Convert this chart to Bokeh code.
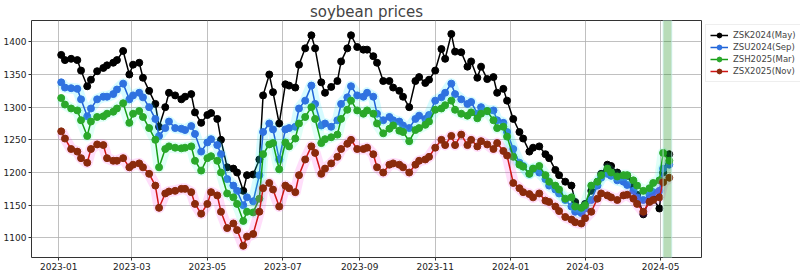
import pandas as pd
from bokeh.plotting import figure
from bokeh.models import BoxAnnotation, FixedTicker, Legend, LegendItem, Range1d
from bokeh.embed import file_html
from bokeh.resources import INLINE

title = "soybean prices"
series_names = ["ZSK2024(May)", "ZSU2024(Sep)", "ZSH2025(Mar)", "ZSX2025(Nov)"]
dates = pd.bdate_range("2023-01-03", "2024-05-10")[::3]

zsk2024 = [1380, 1372, 1374, 1372, 1356, 1332, 1342, 1355, 1360, 1364,
           1368, 1372, 1386, 1350, 1365, 1368, 1345, 1325, 1305, 1270,
           1300, 1322, 1318, 1312, 1316, 1320, 1292, 1276, 1288, 1291,
           1282, 1250, 1208, 1206, 1200, 1172, 1196, 1197, 1220, 1318,
           1350, 1323, 1275, 1335, 1333, 1330, 1365, 1390, 1410, 1390,
           1338, 1322, 1331, 1340, 1370, 1390, 1410, 1392, 1388, 1388,
           1378, 1368, 1340, 1340, 1330, 1325, 1316, 1300, 1340, 1346,
           1337, 1342, 1356, 1389, 1374, 1412, 1385, 1384, 1362, 1370,
           1345, 1362, 1343, 1346, 1322, 1328, 1310, 1282, 1262, 1252,
           1232, 1238, 1240, 1228, 1222, 1204, 1196, 1186, 1180, 1155,
           1145, 1152, 1172, 1186, 1198, 1212, 1210, 1200, 1195, 1195,
           1178, 1166, 1136, 1158, 1160, 1145, 1200, 1228]
zsu2024 = [1338, 1330, 1329, 1328, 1312, 1286, 1298, 1312, 1316, 1316,
           1320, 1327, 1336, 1312, 1318, 1322, 1315, 1300, 1282, 1256,
           1268, 1278, 1268, 1267, 1265, 1271, 1259, 1232, 1246, 1251,
           1242, 1228, 1190, 1180, 1172, 1150, 1162, 1156, 1196, 1262,
           1275, 1266, 1220, 1266, 1268, 1270, 1298, 1310, 1333, 1305,
           1272, 1275, 1270, 1280, 1305, 1315, 1332, 1318, 1316, 1322,
           1316, 1290, 1280, 1285, 1280, 1278, 1272, 1268, 1282, 1287,
           1282, 1288, 1310, 1315, 1322, 1336, 1320, 1312, 1305, 1308,
           1290, 1300, 1294, 1295, 1280, 1276, 1262, 1236, 1215, 1210,
           1198, 1205, 1200, 1190, 1180, 1174, 1168, 1158, 1148, 1140,
           1138, 1145, 1158, 1180, 1192, 1198, 1195, 1188, 1186, 1181,
           1172, 1162, 1158, 1166, 1170, 1172, 1206, 1212]
zsh2025 = [1314, 1304, 1298, 1295, 1280, 1256, 1278, 1285, 1286, 1290,
           1293, 1298, 1306, 1276, 1290, 1294, 1285, 1268, 1250, 1208,
           1236, 1240, 1238, 1237, 1238, 1240, 1218, 1203, 1222, 1225,
           1218, 1200, 1168, 1162, 1152, 1126, 1140, 1139, 1160, 1228,
           1243, 1245, 1205, 1246, 1240, 1252, 1275, 1285, 1300, 1282,
           1245, 1251, 1254, 1258, 1282, 1296, 1310, 1295, 1290, 1295,
           1290, 1275, 1260, 1267, 1272, 1264, 1262, 1248, 1265, 1268,
           1273, 1278, 1296, 1298, 1303, 1310, 1296, 1290, 1287, 1292,
           1283, 1290, 1294, 1280, 1268, 1270, 1255, 1224, 1212, 1209,
           1198, 1206, 1210, 1196, 1186, 1180, 1174, 1160, 1162, 1148,
           1146, 1150, 1180, 1186, 1196, 1206, 1200, 1194, 1196, 1196,
           1188, 1180, 1172, 1176, 1184, 1188, 1230, 1218]
zsx2025 = [1263, 1252, 1236, 1232, 1222, 1215, 1236, 1243, 1242, 1222,
           1218, 1218, 1222, 1208, 1212, 1214, 1208, 1198, 1180, 1146,
           1168, 1171, 1172, 1175, 1175, 1170, 1152, 1137, 1152, 1170,
           1165, 1140, 1115, 1122, 1112, 1088, 1102, 1106, 1140, 1176,
           1184, 1174, 1148, 1180, 1176, 1170, 1196, 1220, 1240, 1230,
           1198, 1206, 1214, 1224, 1236, 1244, 1250, 1236, 1236, 1238,
           1228, 1208, 1200, 1212, 1214, 1212, 1208, 1200, 1212, 1218,
           1220, 1224, 1238, 1250, 1242, 1256, 1242, 1258, 1242, 1250,
           1240, 1248, 1243, 1236, 1245, 1233, 1226, 1184, 1176, 1170,
           1167, 1162, 1168, 1157, 1155, 1148, 1141, 1132, 1128, 1124,
           1122, 1130, 1140, 1160, 1168, 1165, 1162, 1158, 1165, 1166,
           1160, 1152, 1140, 1155, 1158, 1162, 1185, 1192]

x_tick_labels = ["2023-01", "2023-03", "2023-05", "2023-07", "2023-09",
                 "2023-11", "2024-01", "2024-03", "2024-05"]
y_ticks = [1100, 1150, 1200, 1250, 1300, 1350, 1400]
band_start, band_end = "2024-05-03", "2024-05-10"

def ms(s):
    return pd.Timestamp(s).value / 1e6

p = figure(width=800, height=273, output_backend="svg", toolbar_location=None,
           x_axis_type="datetime",
           x_range=Range1d(ms("2022-12-10"), ms("2024-06-03")),
           y_range=Range1d(1070, 1432.6),
           min_border_left=30, min_border_right=0, min_border_top=18,
           min_border_bottom=18)
p.frame_width = 670
p.frame_height = 237

p.title.text = title
p.title.align = "center"
p.title.text_font = "DejaVu Sans"
p.title.text_font_size = "15px"
p.title.text_font_style = "normal"
p.title.standoff = 0
p.title.offset = 0

p.outline_line_color = "#333333"
p.outline_line_width = 1
p.background_fill_color = "white"
p.border_fill_color = "white"

tick_ms = [ms(t + "-01") for t in x_tick_labels]
p.xaxis.ticker = FixedTicker(ticks=tick_ms)
p.xaxis.major_label_overrides = {t: lab for t, lab in zip(tick_ms, x_tick_labels)}
p.yaxis.ticker = FixedTicker(ticks=y_ticks)
for ax in (p.xaxis, p.yaxis):
    ax.axis_line_color = None
    ax.major_tick_line_color = "#333333"
    ax.major_tick_out = 3
    ax.major_tick_in = 0
    ax.minor_tick_line_color = None
    ax.major_label_text_font = "DejaVu Sans"
    ax.major_label_text_font_size = "9px"
    ax.major_label_text_color = "#222222"
    ax.major_label_standoff = 2
p.grid.grid_line_color = "#b0b0b0"
p.grid.grid_line_width = 0.8

styles = [
    (zsk2024, "black", "black", None),
    (zsu2024, "#1f63d6", "#2f72e0", "#00e5ff"),
    (zsh2025, "#169e16", "#2aa82a", "#40ffd0"),
    (zsx2025, "#d01515", "#8a2a0c", "#ff30e0"),
]
items = []
for name, (vals, lc, mc, gc) in zip(series_names, styles):
    if gc is not None:
        p.line(dates, vals, line_color=gc, line_width=11, line_alpha=0.16,
               line_join="round")
    l = p.line(dates, vals, line_color=lc, line_width=1.5)
    s = p.scatter(dates, vals, size=7, fill_color=mc, line_color=mc)
    items.append(LegendItem(label=name, renderers=[l, s]))

p.add_layout(BoxAnnotation(left=ms(band_start), right=ms(band_end),
                           fill_color="green", fill_alpha=0.28,
                           line_color="#c8eee8", line_alpha=0.8))

legend = Legend(items=items, location="top_left", margin=4, padding=4,
                spacing=0, label_text_font="DejaVu Sans",
                label_text_font_size="8.5px", label_height=12,
                glyph_height=12, glyph_width=18, label_standoff=5,
                border_line_color="#dddddd", border_line_width=1,
                background_fill_alpha=1.0)
p.add_layout(legend, "right")

open("out.html", "w").write(file_html(p, INLINE))
